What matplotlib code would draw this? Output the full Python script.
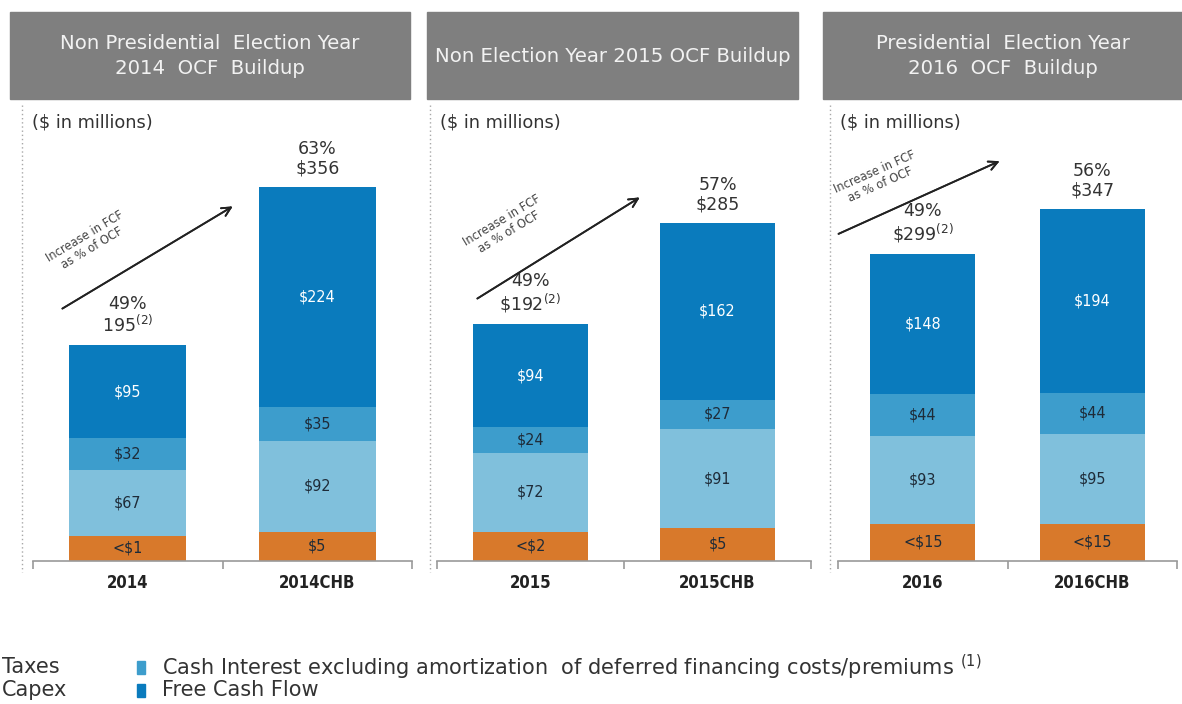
import numpy as np
import matplotlib.pyplot as plt
from matplotlib.patches import Rectangle
from matplotlib.lines import Line2D

W, H = 1182, 704

# Datos por panel (millones de USD)
titles = ["Non Presidential  Election Year\n2014  OCF  Buildup",
          "Non Election Year 2015 OCF Buildup",
          "Presidential  Election Year\n2016  OCF  Buildup"]
categories = [["2014", "2014CHB"], ["2015", "2015CHB"], ["2016", "2016CHB"]]

taxes = [[1, 5], [2, 5], [14, 14]]
capex = [[67, 92], [72, 91], [93, 95]]
interest = [[32, 35], [24, 27], [44, 44]]
fcf = [[95, 224], [94, 162], [148, 194]]

tax_labels = [["<$1", "$5"], ["<$2", "$5"], ["<$15", "<$15"]]
fcf_pct = [["49%", "63%"], ["49%", "57%"], ["49%", "56%"]]
dollar_sign = [["", r"\$"], [r"\$", r"\$"], [r"\$", r"\$"]]
footnote = [[True, False], [True, False], [True, False]]

series = ["Taxes", "Capex",
          "Cash Interest excluding amortization  of deferred financing costs/premiums $^{(1)}$",
          "Free Cash Flow"]
colors = ["#d8792b", "#80c0dc", "#3d9dcc", "#0a7bbd"]

ymax = [440, 393, 457]

# Escala con el tramo inicial ampliado para que los impuestos se vean
A, k = 25.0, 0.25
grid = np.linspace(0, 2000, 20001)


def fwd(y):
    y = np.asarray(y, dtype=float)
    return y + A * (1 - np.exp(-np.clip(y, 0, None) / k))


def inv(v):
    return np.interp(v, fwd(grid), grid)


fig = plt.figure(figsize=(W / 100, H / 100), dpi=100)
fig.patch.set_facecolor("white")

ax_px = [(33, 379), (437, 374), (838, 339)]
box_px = [(10, 410), (427, 798), (823, 1182)]
dot_x = [22, 430, 830]
arrows = [(60, 310, 235, 205), (475, 300, 642, 196), (836, 235, 1002, 160)]
arrow_txt = [(88, 242, 31), (505, 226, 31), (878, 178, 24)]

for p in range(3):
    left, width = ax_px[p]
    ax = fig.add_axes([left / W, (H - 561) / H, width / W, 456 / H])
    ax.set_yscale("function", functions=(fwd, inv))
    x = np.arange(2)
    bottom = np.zeros(2)
    for s, vals in enumerate([taxes[p], capex[p], interest[p], fcf[p]]):
        vals = np.array(vals, dtype=float)
        ax.bar(x, vals, 0.62, bottom=bottom, color=colors[s], edgecolor="none")
        for i in range(2):
            if s == 0:
                txt = tax_labels[p][i]
            else:
                txt = "$" + str(int(vals[i]))
            mid = inv((fwd(bottom[i]) + fwd(bottom[i] + vals[i])) / 2)
            ax.text(x[i], mid, txt, ha="center", va="center", fontsize=11.5,
                    fontstretch="condensed",
                    color="white" if s == 3 else "#1e2b38")
        bottom = bottom + vals

    for i in range(2):
        total = int(bottom[i])
        lab = fcf_pct[p][i] + "\n" + dollar_sign[p][i] + str(total)
        if footnote[p][i]:
            lab += r"$^{(2)}$"
        ax.annotate(lab, (x[i], total), xytext=(0, 7), textcoords="offset points",
                    ha="center", va="bottom", fontsize=12.5, color="#333333",
                    linespacing=1.1)

    ax.set_xlim(-0.5, 1.5)
    ax.set_ylim(0, ymax[p])
    for side in ["top", "right", "left"]:
        ax.spines[side].set_visible(False)
    ax.spines["bottom"].set_color("#9a9a9a")
    ax.spines["bottom"].set_linewidth(1.2)
    ax.set_yticks([])
    ax.set_xticks([-0.5, 0.5, 1.5])
    ax.set_xticklabels([])
    ax.set_xticks(x, minor=True)
    ax.set_xticklabels(categories[p], minor=True, fontsize=12, fontweight="bold",
                       fontstretch="condensed", color="#222222")
    ax.tick_params(axis="x", which="major", length=6, color="#9a9a9a", width=1.2)
    ax.tick_params(axis="x", which="minor", length=0, pad=9)

    # Encabezado gris
    x0, x1 = box_px[p]
    fig.add_artist(Rectangle((x0 / W, 1 - 99 / H), (x1 - x0) / W, 87 / H,
                             transform=fig.transFigure, color="#7f7f7f"))
    fig.text((x0 + x1) / 2 / W, 1 - 56 / H, titles[p], ha="center", va="center",
             fontsize=14.2, color="#f2f2f2", linespacing=1.35)

    fig.add_artist(Line2D([dot_x[p] / W] * 2, [1 - 105 / H, 1 - 572 / H],
                          transform=fig.transFigure, color="#a8a8a8", lw=1,
                          linestyle=(0, (1, 2))))
    fig.text((dot_x[p] + 10) / W, 1 - 123 / H, "($ in millions)", ha="left",
             va="center", fontsize=12.8, color="#333333")

    ax0, ay0, ax1, ay1 = arrows[p]
    fig.add_artist(plt.annotate("", xy=(ax1 / W, 1 - ay1 / H), xytext=(ax0 / W, 1 - ay0 / H),
                                xycoords=fig.transFigure, textcoords=fig.transFigure,
                                arrowprops=dict(arrowstyle="->", color="#222222", lw=1.3,
                                                mutation_scale=16)))
    tx, ty, rot = arrow_txt[p]
    fig.text(tx / W, 1 - ty / H, "Increase in FCF\nas % of OCF", ha="center",
             va="center", rotation=rot, fontsize=8.3, color="#444444",
             rotation_mode="anchor", linespacing=1.1)

# Leyenda inferior
legend_pos = [(None, 2, 667), (None, 2, 690), (137, 162, 667), (137, 162, 690)]
for s, (mx, tx, ty) in enumerate(legend_pos):
    if mx is not None:
        fig.add_artist(Rectangle((mx / W, 1 - (ty + 7) / H), 8 / W, 13 / H,
                                 transform=fig.transFigure, color=colors[s]))
    fig.text(tx / W, 1 - ty / H, series[s], ha="left", va="center",
             fontsize=15, color="#333333")

fig.savefig("out.png", dpi=100)
